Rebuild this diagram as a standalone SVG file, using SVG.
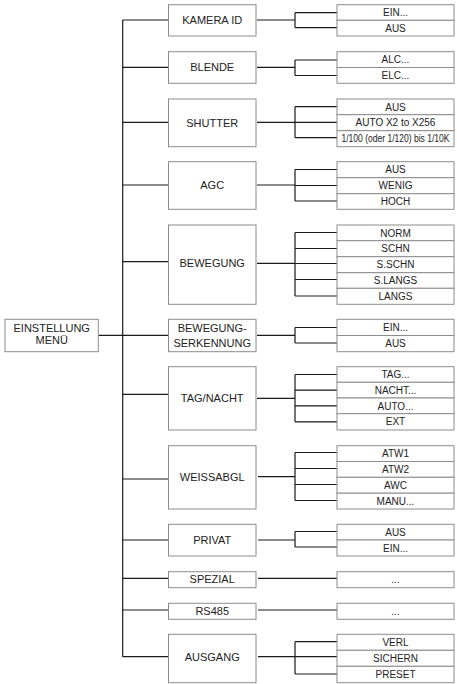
<svg xmlns="http://www.w3.org/2000/svg" width="457" height="684" viewBox="0 0 457 684">
<style>
.bx{fill:#fff;stroke:#8c8c8c;stroke-width:1}
.ln{fill:none;stroke:#1a1a1a;stroke-width:1.2}
.p{font-family:"Liberation Sans",Arial,sans-serif;font-size:11px;fill:#222;text-anchor:middle}
.c{font-family:"Liberation Sans",Arial,sans-serif;font-size:10px;fill:#222;text-anchor:middle}
</style>
<rect width="457" height="684" fill="#fff"/>
<g id="connectors" class="ln">
<path d="M122.7,20 V656.7"/>
<path d="M98.3,335.3 H168.5"/>
<path d="M122.7,20 H168.5 M122.7,67.3 H168.5 M122.7,122.3 H168.5 M122.7,185 H168.5 M122.7,261.7 H168.5 M122.7,394.3 H168.5 M122.7,479 H168.5 M122.7,540 H168.5 M122.7,578.3 H168.5 M122.7,610 H168.5 M122.7,656.7 H168.5"/>
<path d="M257,20 H295 M295,12.7 V27.7 M295,12.7 H337 M295,27.7 H337"/>
<path d="M257,67.3 H295 M295,60 V75.5 M295,60 H337 M295,75.5 H337"/>
<path d="M257,122.3 H295 M295,106.7 V137.7 M295,106.7 H337 M295,122.3 H337 M295,137.7 H337"/>
<path d="M257,185 H295 M295,169.5 V201 M295,169.5 H337 M295,185.5 H337 M295,201 H337"/>
<path d="M257,263.3 H295 M295,232.5 V296 M295,232.5 H337 M295,248.5 H337 M295,263.5 H337 M295,279.5 H337 M295,296 H337"/>
<path d="M257,335.3 H295 M295,327.5 V343 M295,327.5 H337 M295,343 H337"/>
<path d="M257,398.3 H295 M295,374.5 V421.8 M295,374.5 H337 M295,390.2 H337 M295,405.8 H337 M295,421.8 H337"/>
<path d="M258,476.7 H295 M295,452.5 V500.5 M295,452.5 H337 M295,468.5 H337 M295,484.5 H337 M295,500.5 H337"/>
<path d="M258,540 H295 M295,531.5 V547 M295,531.5 H337 M295,547 H337"/>
<path d="M258,578.3 H337"/>
<path d="M258,610 H337"/>
<path d="M258,656.7 H295 M295,641.7 V674 M295,641.7 H337 M295,656.7 H337 M295,674 H337"/>
</g>
<g id="menu"><rect class="bx" x="5" y="319.3" width="93.3" height="32.4"/><text class="p" x="51.7" y="331.5">EINSTELLUNG</text><text class="p" x="51.7" y="344.3">MENÜ</text></g>
<g id="kamera-id"><rect class="bx" x="168.5" y="4.7" width="87.5" height="31.3"/><text class="p" x="212.2" y="24.3">KAMERA ID</text></g>
<g id="kamera-id-opts"><rect class="bx" x="337" y="4.7" width="117" height="15.6"/><rect class="bx" x="337" y="20.3" width="117" height="15.7"/><text class="c" x="395.5" y="16.1">EIN...</text><text class="c" x="395.5" y="31.8">AUS</text></g>
<g id="blende"><rect class="bx" x="168.5" y="51.7" width="87.5" height="31.6"/><text class="p" x="212.2" y="71.4">BLENDE</text></g>
<g id="blende-opts"><rect class="bx" x="337" y="51.7" width="117" height="15.8"/><rect class="bx" x="337" y="67.5" width="117" height="15.8"/><text class="c" x="395.5" y="63.2">ALC...</text><text class="c" x="395.5" y="79">ELC...</text></g>
<g id="shutter"><rect class="bx" x="168.5" y="99" width="87.5" height="47.7"/><text class="p" x="212.2" y="126.7">SHUTTER</text></g>
<g id="shutter-opts"><rect class="bx" x="337" y="99" width="117" height="15.7"/><rect class="bx" x="337" y="114.7" width="117" height="16"/><rect class="bx" x="337" y="130.7" width="117" height="16"/><text class="c" x="395.5" y="110.5">AUS</text><text class="c" x="395.5" y="126.3">AUTO X2 to X256</text><text class="c" x="395.5" y="141.7" font-size="8" textLength="108" lengthAdjust="spacingAndGlyphs">1/100 (oder 1/120) bis 1/10K</text></g>
<g id="agc"><rect class="bx" x="168.5" y="161.7" width="87.5" height="47.6"/><text class="p" x="212.2" y="189.4">AGC</text></g>
<g id="agc-opts"><rect class="bx" x="337" y="161.7" width="117" height="16"/><rect class="bx" x="337" y="177.7" width="117" height="16"/><rect class="bx" x="337" y="193.7" width="117" height="15.6"/><text class="c" x="395.5" y="173.3">AUS</text><text class="c" x="395.5" y="189.3">WENIG</text><text class="c" x="395.5" y="205">HOCH</text></g>
<g id="bewegung"><rect class="bx" x="168.5" y="225" width="87.5" height="79.3"/><text class="p" x="212.2" y="266.5">BEWEGUNG</text></g>
<g id="bewegung-opts"><rect class="bx" x="337" y="225" width="117" height="15.7"/><rect class="bx" x="337" y="240.7" width="117" height="16"/><rect class="bx" x="337" y="256.7" width="117" height="16"/><rect class="bx" x="337" y="272.7" width="117" height="15.6"/><rect class="bx" x="337" y="288.3" width="117" height="16"/><text class="c" x="395.5" y="236.5">NORM</text><text class="c" x="395.5" y="252.3">SCHN</text><text class="c" x="395.5" y="268.3">S.SCHN</text><text class="c" x="395.5" y="284.1">S.LANGS</text><text class="c" x="395.5" y="299.9">LANGS</text></g>
<g id="bewegungserkennung"><rect class="bx" x="168.5" y="319.3" width="87.5" height="32.4"/><text class="p" x="212.2" y="332.3">BEWEGUNG-</text><text class="p" x="212.2" y="347.3">SERKENNUNG</text></g>
<g id="bewegungserkennung-opts"><rect class="bx" x="337" y="319.3" width="117" height="16.2"/><rect class="bx" x="337" y="335.5" width="117" height="16.2"/><text class="c" x="395.5" y="331">EIN...</text><text class="c" x="395.5" y="347.2">AUS</text></g>
<g id="tag-nacht"><rect class="bx" x="168.5" y="366.7" width="87.5" height="63.3"/><text class="p" x="212.2" y="402.3">TAG/NACHT</text></g>
<g id="tag-nacht-opts"><rect class="bx" x="337" y="366.7" width="117" height="15.6"/><rect class="bx" x="337" y="382.3" width="117" height="15.7"/><rect class="bx" x="337" y="398" width="117" height="15.7"/><rect class="bx" x="337" y="413.7" width="117" height="16.3"/><text class="c" x="395.5" y="378.1">TAG...</text><text class="c" x="395.5" y="393.8">NACHT...</text><text class="c" x="395.5" y="409.5">AUTO...</text><text class="c" x="395.5" y="425.4">EXT</text></g>
<g id="weissabgl"><rect class="bx" x="168.5" y="445.7" width="87.5" height="63.3"/><text class="p" x="212.2" y="481.3">WEISSABGL</text></g>
<g id="weissabgl-opts"><rect class="bx" x="337" y="445.7" width="117" height="15.8"/><rect class="bx" x="337" y="461.5" width="117" height="15.8"/><rect class="bx" x="337" y="477.3" width="117" height="15.9"/><rect class="bx" x="337" y="493.2" width="117" height="15.8"/><text class="c" x="395.5" y="457.2">ATW1</text><text class="c" x="395.5" y="473">ATW2</text><text class="c" x="395.5" y="488.9">AWC</text><text class="c" x="395.5" y="504.7">MANU...</text></g>
<g id="privat"><rect class="bx" x="168.5" y="524.3" width="87.5" height="31.7"/><text class="p" x="212.2" y="544">PRIVAT</text></g>
<g id="privat-opts"><rect class="bx" x="337" y="524.3" width="117" height="15.7"/><rect class="bx" x="337" y="540" width="117" height="16"/><text class="c" x="395.5" y="535.8">AUS</text><text class="c" x="395.5" y="551.6">EIN...</text></g>
<g id="spezial"><rect class="bx" x="168.5" y="571.7" width="87.5" height="16"/><text class="p" x="212.2" y="583.3">SPEZIAL</text></g>
<g id="spezial-opts"><rect class="bx" x="337" y="571.7" width="117" height="16"/><text class="c" x="395.5" y="583.3" fill="#555">...</text></g>
<g id="rs485"><rect class="bx" x="168.5" y="603.3" width="87.5" height="16"/><text class="p" x="212.2" y="615">RS485</text></g>
<g id="rs485-opts"><rect class="bx" x="337" y="603.3" width="117" height="16"/><text class="c" x="395.5" y="615" fill="#555">...</text></g>
<g id="ausgang"><rect class="bx" x="168.5" y="634.3" width="87.5" height="48.4"/><text class="p" x="212.2" y="660.6">AUSGANG</text></g>
<g id="ausgang-opts"><rect class="bx" x="337" y="634.3" width="117" height="16"/><rect class="bx" x="337" y="650.3" width="117" height="16"/><rect class="bx" x="337" y="666.3" width="117" height="16.4"/><text class="c" x="395.5" y="645.9">VERL</text><text class="c" x="395.5" y="661.9">SICHERN</text><text class="c" x="395.5" y="678.1">PRESET</text></g>
</svg>
